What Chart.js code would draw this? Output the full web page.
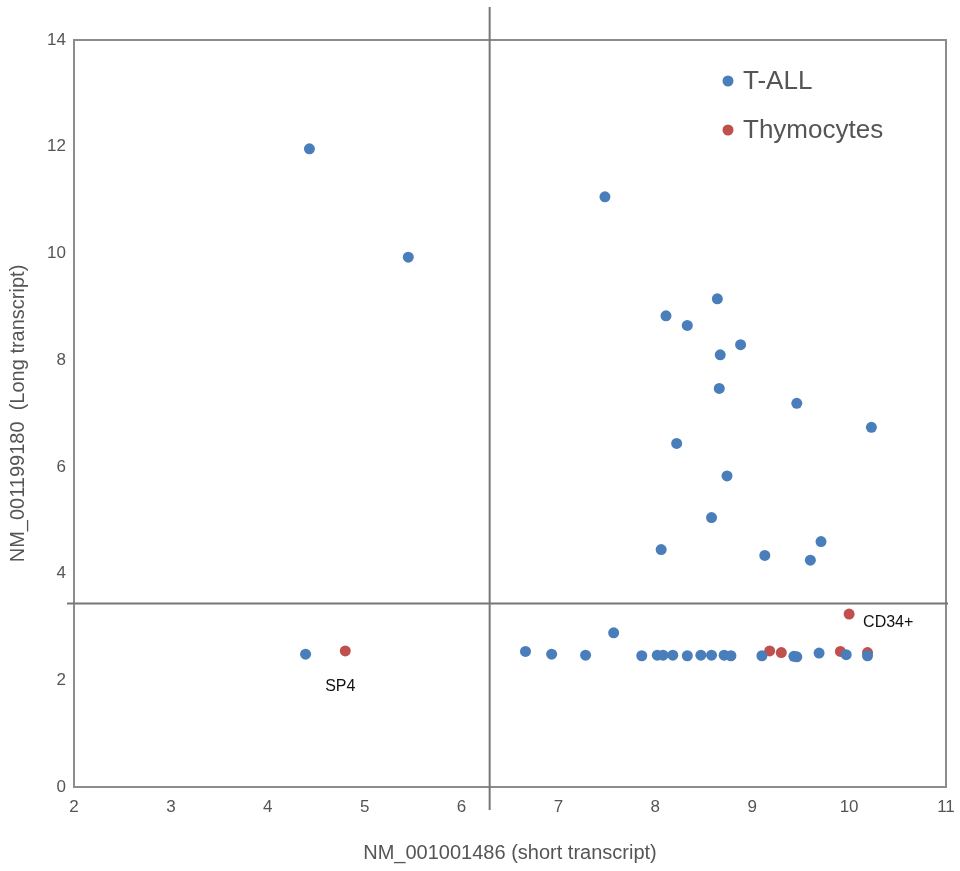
<!DOCTYPE html>
<html>
<head>
<meta charset="utf-8">
<script src="https://cdn.jsdelivr.net/npm/chart.js@4.4.1/dist/chart.umd.min.js"></script>
<style>
  html, body { margin: 0; padding: 0; background: #fff; }
  #wrap { width: 960px; height: 871px; }
</style>
</head>
<body>
<div id="wrap"><canvas id="grafico"></canvas></div>
<script>
// T-ALL samples
var tallX = [4.43, 5.45, 7.48, 8.64, 8.11, 8.33, 8.88, 8.67, 8.66, 9.46, 10.23, 8.22, 8.74, 8.58, 8.06, 9.13, 9.71, 9.60,
             4.39, 6.66, 6.93, 7.28, 7.57, 7.86, 8.02, 8.08, 8.18, 8.33, 8.47, 8.58, 8.71, 8.78, 9.10, 9.43, 9.46, 9.69, 9.97, 10.19];
var tallY = [11.96, 9.93, 11.06, 9.15, 8.83, 8.65, 8.29, 8.10, 7.47, 7.19, 6.74, 6.44, 5.83, 5.05, 4.45, 4.34, 4.60, 4.25,
             2.49, 2.54, 2.49, 2.47, 2.89, 2.46, 2.47, 2.47, 2.47, 2.46, 2.47, 2.47, 2.47, 2.46, 2.46, 2.45, 2.44, 2.51, 2.48, 2.46];

// Thymocytes
var thymX = [4.80, 9.18, 9.30, 9.91, 10.19, 10.00];
var thymY = [2.55, 2.55, 2.52, 2.54, 2.52, 3.24];
var thymLabels = ['SP4', '', '', '', '', 'CD34+'];

// quadrant cut-offs
var corteX = 6.29;
var corteY = 3.44;

var xTicks = [2, 3, 4, 5, 6, 7, 8, 9, 10, 11];
var yTicks = [0, 2, 4, 6, 8, 10, 12, 14];

var series = ['T-ALL', 'Thymocytes'];
var cores = ['#4a7ebb', '#c0504d'];

function pontos(xs, ys) {
    var out = [];
    for (var i = 0; i < xs.length; i++) {
        out.push({ x: xs[i], y: ys[i] });
    }
    return out;
}

const fonte = '"Liberation Sans", Arial, sans-serif';

const plugQuadros = {
    id: 'quadros',
    afterDatasetsDraw(chart) {
        const ctx = chart.ctx;
        const a = chart.chartArea;
        const sx = chart.scales.x;
        const sy = chart.scales.y;
        ctx.save();
        // frame
        ctx.strokeStyle = '#8c8c8c';
        ctx.lineWidth = 2;
        ctx.strokeRect(a.left, a.top, a.right - a.left, a.bottom - a.top);

        // quadrant lines
        ctx.strokeStyle = '#777777';
        ctx.lineWidth = 2;
        var px = sx.getPixelForValue(corteX);
        var py = sy.getPixelForValue(corteY);
        ctx.beginPath();
        ctx.moveTo(px, 7);
        ctx.lineTo(px, a.bottom + 23);
        ctx.moveTo(a.left - 7, py);
        ctx.lineTo(a.right + 2, py);
        ctx.stroke();

        // point labels
        ctx.fillStyle = '#111';
        ctx.font = '16px ' + fonte;
        ctx.textBaseline = 'middle';
        for (var i = 0; i < thymLabels.length; i++) {
            if (!thymLabels[i]) continue;
            var lx = sx.getPixelForValue(thymX[i]);
            var ly = sy.getPixelForValue(thymY[i]);
            if (thymLabels[i] == 'SP4') {
                ctx.textAlign = 'center';
                ctx.fillText(thymLabels[i], lx - 5, ly + 36);
            } else {
                ctx.textAlign = 'left';
                ctx.fillText(thymLabels[i], lx + 14, ly + 8);
            }
        }

        // legend
        ctx.font = '26px ' + fonte;
        ctx.textAlign = 'left';
        for (var j = 0; j < series.length; j++) {
            var cx = a.right - 218;
            var cy = a.top + 41 + j * 49;
            ctx.fillStyle = cores[j];
            ctx.beginPath();
            ctx.arc(cx, cy, 5.5, 0, Math.PI * 2);
            ctx.fill();
            ctx.fillStyle = '#555';
            ctx.fillText(series[j], cx + 15, cy + 1);
        }
        ctx.restore();
    }
};

const grafico = new Chart(document.getElementById('grafico'), {
    type: 'scatter',
    data: {
        datasets: [{
            label: series[0],
            data: pontos(tallX, tallY),
            backgroundColor: cores[0],
            borderColor: cores[0],
            borderWidth: 0,
            pointRadius: 5.5,
            pointHoverRadius: 5.5
        }, {
            label: series[1],
            data: pontos(thymX, thymY),
            backgroundColor: cores[1],
            borderColor: cores[1],
            borderWidth: 0,
            pointRadius: 5.5,
            pointHoverRadius: 5.5
        }]
    },
    options: {
        responsive: true,
        maintainAspectRatio: false,
        animation: false,
        layout: {
            padding: { top: 40, right: 14, bottom: 0, left: 0 }
        },
        plugins: {
            legend: { display: false },
            tooltip: { enabled: false }
        },
        scales: {
            x: {
                type: 'linear',
                min: 2,
                max: 11,
                afterBuildTicks: function (axis) {
                    axis.ticks = xTicks.map(function (v) { return { value: v }; });
                },
                afterFit: function (axis) {
                    axis.height = 84;
                    axis.paddingLeft = 0;
                    axis.paddingRight = 0;
                },
                grid: { display: false, drawTicks: false },
                border: { display: false },
                ticks: {
                    padding: 10,
                    color: '#555',
                    font: { family: fonte, size: 17 }
                },
                title: {
                    display: true,
                    text: 'NM_001001486 (short transcript)',
                    color: '#555',
                    font: { family: fonte, size: 20 },
                    padding: { top: 0, bottom: 6 }
                }
            },
            y: {
                type: 'linear',
                min: 0,
                max: 14,
                afterBuildTicks: function (axis) {
                    axis.ticks = yTicks.map(function (v) { return { value: v }; });
                },
                afterFit: function (axis) {
                    axis.width = 74;
                    axis.paddingTop = 0;
                    axis.paddingBottom = 0;
                },
                grid: { display: false, drawTicks: false },
                border: { display: false },
                ticks: {
                    padding: 8,
                    color: '#555',
                    font: { family: fonte, size: 17 }
                },
                title: {
                    display: true,
                    text: 'NM_001199180  (Long transcript)',
                    color: '#555',
                    font: { family: fonte, size: 20 },
                    padding: { top: 6, bottom: 0 }
                }
            }
        }
    },
    plugins: [plugQuadros]
});
</script>
</body>
</html>
